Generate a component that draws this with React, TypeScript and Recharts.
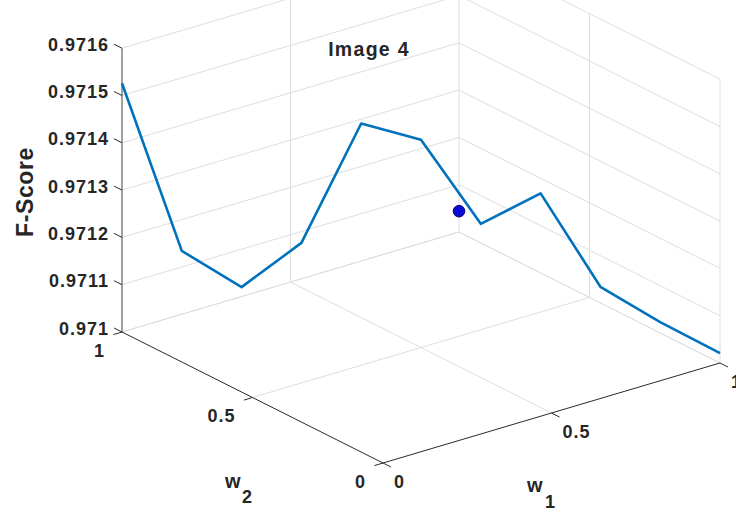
import React from 'react'
import { ScatterChart, XAxis, YAxis, Scatter, ReferenceLine, Customized } from 'recharts'

// F-Score along the line w1 + w2 = 1
const W1_VALUES = [0, 0.1, 0.2, 0.3, 0.4, 0.5, 0.6, 0.7, 0.8, 0.9, 1]
const W2_VALUES = [1, 0.9, 0.8, 0.7, 0.6, 0.5, 0.4, 0.3, 0.2, 0.1, 0]
const F_SCORE = [0.971526, 0.971178, 0.971108, 0.971208, 0.971467, 0.971439, 0.971268, 0.971339, 0.971148, 0.97108, 0.971021]

// the single marked point
const MARK_W1 = [1]
const MARK_W2 = [1]
const MARK_F = [0.971044]

const W1_TICKS = [0, 0.5, 1]
const W2_TICKS = [0, 0.5, 1]
const W_TICK_LABELS = ['0', '0.5', '1']
const F_TICKS = [0.971, 0.9711, 0.9712, 0.9713, 0.9714, 0.9715, 0.9716]
const F_TICK_LABELS = ['0.971', '0.9711', '0.9712', '0.9713', '0.9714', '0.9715', '0.9716']

const F_MIN = 0.971
const F_MAX = 0.9716

const WIDTH = 736
const HEIGHT = 514

// simple fixed 3d -> 2d projection (pixels per unit along each axis)
const VIEW = { x0: 383, y0: 463, w1: [337, -100], w2: [-261, -131], f: 473000 }

const FONT = '"Liberation Sans", Arial, Helvetica, sans-serif'
const GRID = '#dedede'
const AXIS = '#2b2b2b'

function proj(w1: number, w2: number, f: number) {
    return {
        px: VIEW.x0 + VIEW.w1[0] * w1 + VIEW.w2[0] * w2,
        py: VIEW.y0 + VIEW.w1[1] * w1 + VIEW.w2[1] * w2 - (f - F_MIN) * VIEW.f,
    }
}

type Seg = [number[], number[]]

// back walls + floor grid
const gridSegments: Seg[] = []
F_TICKS.forEach(f => {
    gridSegments.push([[0, 1, f], [1, 1, f]])
    gridSegments.push([[1, 1, f], [1, 0, f]])
})
W1_TICKS.filter(w => w > 0).forEach(w => {
    gridSegments.push([[w, 1, F_MIN], [w, 1, F_MAX]])
    gridSegments.push([[w, 0, F_MIN], [w, 1, F_MIN]])
})
W2_TICKS.filter(w => w < 1).forEach(w => {
    gridSegments.push([[1, w, F_MIN], [1, w, F_MAX]])
})
W2_TICKS.filter(w => w > 0).forEach(w => {
    gridSegments.push([[0, w, F_MIN], [1, w, F_MIN]])
})

const axisSegments: { seg: Seg; color: string; width: number }[] = [
    { seg: [[0, 1, F_MIN], [0, 1, F_MAX]], color: '#777777', width: 1.4 },
    { seg: [[0, 0, F_MIN], [0, 1, F_MIN]], color: AXIS, width: 1 },
    { seg: [[0, 0, F_MIN], [1, 0, F_MIN]], color: AXIS, width: 1 },
]

const curve = W1_VALUES.map((w1, i) => proj(w1, W2_VALUES[i], F_SCORE[i]))
const marks = MARK_W1.map((w1, i) => proj(w1, MARK_W2[i], MARK_F[i]))

const fTicks = F_TICKS.map((f, i) => ({ ...proj(0, 1, f), label: F_TICK_LABELS[i] }))
const w1Ticks = W1_TICKS.map((w, i) => ({ ...proj(w, 0, F_MIN), label: W_TICK_LABELS[i] }))
const w2Ticks = W2_TICKS.map((w, i) => ({ ...proj(0, w, F_MIN), label: W_TICK_LABELS[i] }))

const tickText = { fontFamily: FONT, fontWeight: 700, fontSize: 18, fill: '#262626', letterSpacing: 1 }

const FTick = (props: any) => {
    const { cx, cy, payload } = props
    return (
        <g>
            <line x1={cx} y1={cy} x2={cx - 8} y2={cy - 4} stroke={AXIS} strokeWidth={1} />
            <text x={cx - 13} y={cy - 3.5} textAnchor="end" dominantBaseline="central" style={tickText}>
                {payload.label}
            </text>
        </g>
    )
}

const W2Tick = (props: any) => {
    const { cx, cy, payload } = props
    return (
        <g>
            <line x1={cx} y1={cy} x2={cx - 8.6} y2={cy + 2.6} stroke={AXIS} strokeWidth={1} />
            <text x={cx - 17} y={cy + 18.5} textAnchor="end" dominantBaseline="central" style={tickText}>
                {payload.label}
            </text>
        </g>
    )
}

const W1Tick = (props: any) => {
    const { cx, cy, payload } = props
    return (
        <g>
            <line x1={cx} y1={cy} x2={cx + 8} y2={cy + 4} stroke={AXIS} strokeWidth={1} />
            <text x={cx + 11} y={cy + 19} textAnchor="start" dominantBaseline="central" style={tickText}>
                {payload.label}
            </text>
        </g>
    )
}

const Labels = () => (
    <g style={{ fontFamily: FONT, fontWeight: 700, fill: '#262626' }}>
        <text x={369} y={49} textAnchor="middle" dominantBaseline="central" fontSize={19.5} letterSpacing={1.3}>
            Image 4
        </text>
        <text
            x={25}
            y={192}
            textAnchor="middle"
            dominantBaseline="central"
            fontSize={23}
            letterSpacing={0.6}
            transform="rotate(-90 25 192)"
        >
            F-Score
        </text>
        <text x={225} y={488} fontSize={20}>w</text>
        <text x={242} y={503} fontSize={18}>2</text>
        <text x={527} y={492} fontSize={20}>w</text>
        <text x={545} y={508} fontSize={18}>1</text>
    </g>
)

export default function App() {
    return (
        <div style={{ position: 'absolute', left: 0, top: 0, width: WIDTH, height: HEIGHT, background: '#fff' }}>
            <ScatterChart width={WIDTH} height={HEIGHT} margin={{ top: 0, right: 0, bottom: 0, left: 0 }}>
                <XAxis type="number" dataKey="px" domain={[0, WIDTH]} hide allowDataOverflow />
                <YAxis type="number" dataKey="py" domain={[0, HEIGHT]} reversed hide allowDataOverflow />

                {gridSegments.map((s, i) => {
                    const a = proj(s[0][0], s[0][1], s[0][2])
                    const b = proj(s[1][0], s[1][1], s[1][2])
                    return (
                        <ReferenceLine
                            key={`g-${i}`}
                            segment={[{ x: a.px, y: a.py }, { x: b.px, y: b.py }]}
                            stroke={GRID}
                            strokeWidth={1}
                            ifOverflow="hidden"
                        />
                    )
                })}
                {axisSegments.map((s, i) => {
                    const a = proj(s.seg[0][0], s.seg[0][1], s.seg[0][2])
                    const b = proj(s.seg[1][0], s.seg[1][1], s.seg[1][2])
                    return (
                        <ReferenceLine
                            key={`a-${i}`}
                            segment={[{ x: a.px, y: a.py }, { x: b.px, y: b.py }]}
                            stroke={s.color}
                            strokeWidth={s.width}
                            ifOverflow="hidden"
                        />
                    )
                })}

                <Scatter data={fTicks} shape={FTick} isAnimationActive={false} />
                <Scatter data={w1Ticks} shape={W1Tick} isAnimationActive={false} />
                <Scatter data={w2Ticks} shape={W2Tick} isAnimationActive={false} />

                <Scatter
                    data={curve}
                    line={{ stroke: '#0072BD', strokeWidth: 2.6, strokeLinejoin: 'round' }}
                    shape={() => <g />}
                    isAnimationActive={false}
                />
                <Scatter
                    data={marks}
                    shape={(p: any) => <circle cx={p.cx} cy={p.cy} r={5.8} fill="#0a0ad6" stroke="#00006e" strokeWidth={1} />}
                    isAnimationActive={false}
                />

                <Customized component={Labels} />
            </ScatterChart>
        </div>
    )
}
